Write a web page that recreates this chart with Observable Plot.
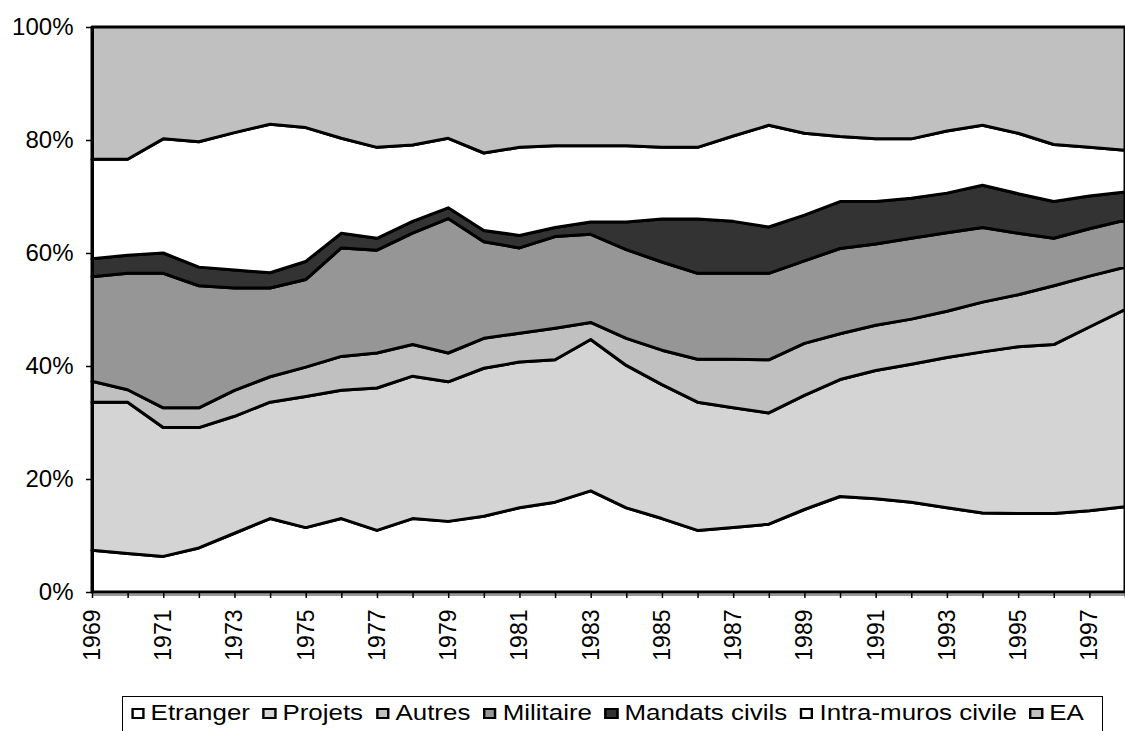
<!DOCTYPE html>
<html>
<head>
<meta charset="utf-8">
<script src="https://cdn.jsdelivr.net/npm/d3@7"></script>
<script src="https://cdn.jsdelivr.net/npm/@observablehq/plot@0.6"></script>
<style>
  html, body { margin: 0; padding: 0; background: white; }
  #wrap { position: relative; width: 1125px; height: 731px; overflow: hidden; font-family: "Liberation Sans", Arial, sans-serif; }
  #legend { position: absolute; left: 122px; top: 696px; width: 981px; height: 60px; border: 1px solid black; box-sizing: border-box; }
  #legend .inner { display: flex; align-items: center; transform: scaleX(1.2); transform-origin: left top; padding-left: 6.5px; padding-top: 3px; font-size: 21.6px; line-height: 26px; white-space: nowrap; color: black; }
  #legend .sw { width: 11.5px; height: 11px; border: 2px solid black; box-sizing: border-box; margin-right: 5px; }
  #legend .item { display: flex; align-items: center; margin-right: 10.5px; }
</style>
</head>
<body>
<div id="wrap"><div id="chart"></div><div id="legend"><div class="inner"></div></div></div>
<script>
const years = d3.range(1969, 1999);
const seriesNames = ["Etranger", "Projets", "Autres", "Militaire", "Mandats civils", "Intra-muros civile", "EA"];
const seriesColors = ["#ffffff", "#d4d4d4", "#c0c0c0", "#969696", "#333333", "#ffffff", "#c0c0c0"];

const etranger  = [7.4, 6.8, 6.3, 7.8, 10.4, 13.0, 11.4, 13.0, 10.9, 13.0, 12.5, 13.4, 14.9, 15.9, 17.9, 14.9, 13.0, 10.9, 11.4, 12.0, 14.6, 16.9, 16.5, 15.9, 14.9, 14.0, 13.9, 13.9, 14.4, 15.1];
const projets   = [26.2, 26.8, 22.8, 21.3, 20.7, 20.6, 23.2, 22.7, 25.2, 25.2, 24.7, 26.2, 25.8, 25.2, 26.8, 25.2, 23.7, 22.7, 21.2, 19.7, 20.2, 20.7, 22.7, 24.4, 26.6, 28.5, 29.5, 29.9, 32.5, 34.9];
const autres    = [3.7, 2.2, 3.5, 3.5, 4.6, 4.5, 5.2, 6.0, 6.2, 5.6, 5.1, 5.3, 5.1, 5.6, 3.0, 4.8, 6.1, 7.6, 8.6, 9.4, 9.2, 8.1, 8.0, 8.0, 8.2, 8.8, 9.2, 10.4, 9.0, 7.5];
const militaire = [18.5, 20.6, 23.8, 21.6, 18.1, 15.7, 15.5, 19.2, 18.2, 19.7, 23.8, 17.1, 15.1, 16.2, 15.6, 15.7, 15.6, 15.2, 15.2, 15.3, 14.6, 15.1, 14.4, 14.3, 13.9, 13.2, 10.9, 8.4, 8.4, 8.3];
const mandats   = [3.2, 3.2, 3.6, 3.3, 3.2, 2.7, 3.2, 2.6, 2.1, 2.1, 1.9, 2.0, 2.2, 1.6, 2.2, 4.9, 7.6, 9.6, 9.2, 8.2, 8.1, 8.3, 7.5, 7.1, 7.0, 7.5, 7.0, 6.5, 5.8, 5.0];
const intramuros= [17.6, 17.0, 20.2, 22.2, 24.3, 26.3, 23.7, 16.8, 16.1, 13.5, 12.3, 13.7, 15.6, 14.5, 13.5, 13.5, 12.7, 12.7, 15.1, 18.0, 14.5, 11.5, 11.1, 10.5, 11.0, 10.6, 10.7, 10.1, 8.6, 7.4];
const ea        = [23.4, 23.4, 19.8, 20.3, 18.7, 17.2, 17.8, 19.7, 21.3, 20.9, 19.7, 22.3, 21.3, 21.0, 21.0, 21.0, 21.3, 21.3, 19.3, 17.4, 18.8, 19.4, 19.8, 19.8, 18.4, 17.4, 18.8, 20.8, 21.3, 21.8];
const yTicks = [0, 0.2, 0.4, 0.6, 0.8, 1];

const seriesValues = [etranger, projets, autres, militaire, mandats, intramuros, ea];
const data = [];
seriesNames.forEach((s, i) => {
  years.forEach((y, j) => data.push({series: s, year: y, value: seriesValues[i][j]}));
});

const chart = Plot.plot({
  width: 1125,
  height: 690,
  marginLeft: 92,
  marginRight: 0,
  marginTop: 27,
  marginBottom: 98,
  style: {fontFamily: "'Liberation Sans', Arial, sans-serif", background: "white", color: "black", overflow: "visible"},
  x: {type: "linear", domain: [1969, 1998]},
  y: {domain: [0, 1]},
  color: {domain: seriesNames, range: seriesColors},
  marks: [
    Plot.areaY(data, Plot.stackY({x: "year", y: "value", z: "series", fill: "series", offset: "normalize", order: null, stroke: "black", strokeWidth: 3, strokeLinejoin: "round"})),
    Plot.ruleY([0], {stroke: "#999", strokeWidth: 3, dy: 2}),
    Plot.ruleY([0], {stroke: "black", strokeWidth: 1.5}),
    Plot.ruleX([1969], {stroke: "black", strokeWidth: 3}),
    Plot.axisY({ticks: yTicks, tickFormat: d => Math.round(d * 100) + "%", tickSize: 6, tickPadding: 13, fontSize: 24, label: null, stroke: "black", strokeWidth: 1.5}),
    Plot.axisX({ticks: years, tickFormat: d => (d % 2 === 1 ? String(d) : ""), tickRotate: -90, tickSize: 6, tickPadding: 11, fontSize: 23, label: null, stroke: "black", strokeWidth: 1.5})
  ]
});
document.getElementById("chart").appendChild(chart);

const inner = document.querySelector("#legend .inner");
seriesNames.forEach((s, i) => {
  const item = document.createElement("div");
  item.className = "item";
  const sw = document.createElement("div");
  sw.className = "sw";
  sw.style.background = seriesColors[i];
  const t = document.createElement("span");
  t.textContent = s;
  item.appendChild(sw);
  item.appendChild(t);
  inner.appendChild(item);
});
</script>
</body>
</html>
